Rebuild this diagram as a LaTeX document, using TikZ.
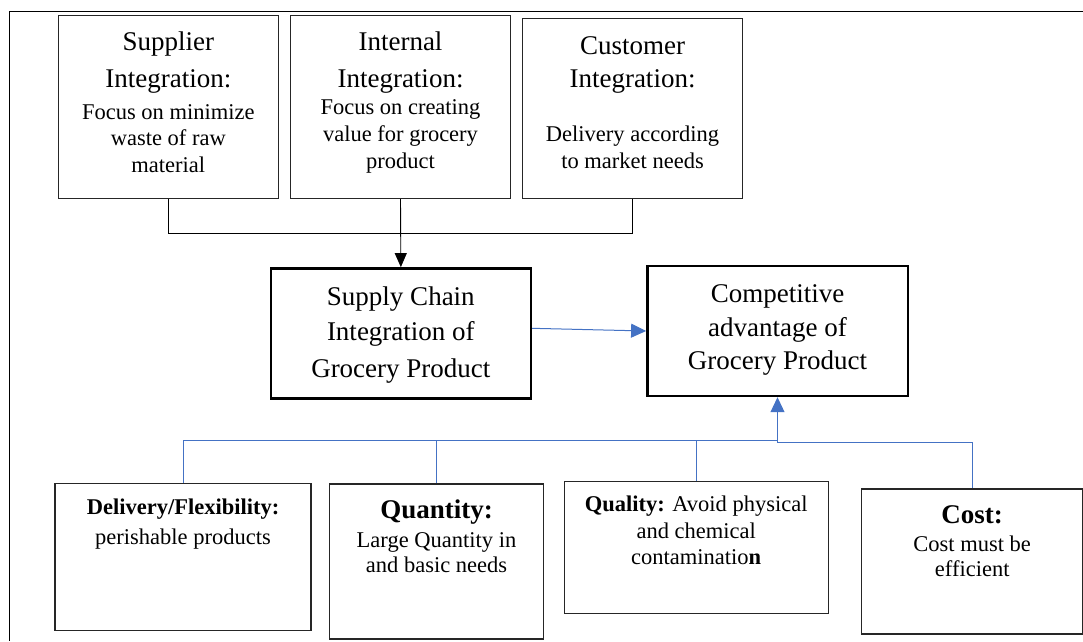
\documentclass[tikz,border=0pt]{standalone}
\usepackage{fontspec}
\setmainfont{LiberationSerif}[Extension=.ttf, UprightFont=*-Regular, BoldFont=*-Bold, ItalicFont=*-Italic, BoldItalicFont=*-BoldItalic]
\usetikzlibrary{arrows.meta}
\definecolor{linkblue}{HTML}{4472C4}
\begin{document}
\begin{tikzpicture}[x=1pt,y=-1pt,
  topbox/.style={draw=black!85, line width=0.9pt, inner sep=0pt},
  keybox/.style={draw=black, line width=2.4pt, inner sep=0pt},
  factbox/.style={draw=black!85, line width=1.1pt, inner sep=0pt},
  big/.style={font=\fontsize{27}{32}\selectfont, anchor=base, inner sep=0pt},
  small/.style={font=\fontsize{22.5}{27}\selectfont, anchor=base, inner sep=0pt},
  feed/.style={draw=black, line width=0.9pt},
  link/.style={draw=linkblue, line width=1pt},
  blackhead/.style={-{Triangle[length=14pt,width=12pt]}},
  bluehead/.style={-{Triangle[length=15pt,width=14pt]}},
]
\useasboundingbox (0,0) rectangle (1083,641);

% outer frame (top and left edges)
\draw[line width=1.5pt] (1083,11.7) -- (9.7,11.7) -- (9.7,641);

% integration boxes
\node[topbox, minimum width=220pt, minimum height=183.4pt] (sup) at (168.3,107) {};
\node[topbox, minimum width=219.6pt, minimum height=183.4pt] (int) at (400.5,107) {};
\node[topbox, minimum width=219.6pt, minimum height=180.7pt] (cust) at (632.5,108.4) {};

\node[big] (supA) at (168.3,50.7) {Supplier};
\node[big] (supB) at (168.3,87.3) {Integration:};
\node[small] (supC) at (168.3,119) {Focus on minimize};
\node[small] (supD) at (168.3,145.5) {waste of raw};
\node[small] (supE) at (168.3,172) {material};

\node[big] (intA) at (400.5,50.7) {Internal};
\node[big] (intB) at (400.5,87.3) {Integration:};
\node[small] (intC) at (400.5,114) {Focus on creating};
\node[small] (intD) at (400.5,141.5) {value for grocery};
\node[small] (intE) at (400.5,168.5) {product};

\node[big] (custA) at (632.5,54.3) {Customer};
\node[big] (custB) at (632.5,87.3) {Integration:};
\node[small] (custC) at (632.5,141.7) {Delivery according};
\node[small] (custD) at (632.5,168.3) {to market needs};

% central boxes
\node[keybox, minimum width=260.3pt, minimum height=130pt] (scm) at (400.85,333.3) {};
\node[keybox, minimum width=260.4pt, minimum height=130pt] (comp) at (777.5,331) {};

\node[big] (scmA) at (400.85,305) {Supply Chain};
\node[big] (scmB) at (400.85,340.7) {Integration of};
\node[big] (scmC) at (400.85,377.7) {Grocery Product};

\node[big] (compA) at (777.5,302.3) {Competitive};
\node[big] (compB) at (777.5,336) {advantage of};
\node[big] (compC) at (777.5,369.3) {Grocery Product};

% factor boxes
\node[factbox, minimum width=256pt, minimum height=147.4pt] (del) at (183,557) {};
\node[factbox, minimum width=214.4pt, minimum height=155pt] (qty) at (436.5,561.5) {};
\node[factbox, minimum width=264.3pt, minimum height=131.6pt] (qly) at (696.2,547.5) {};
\node[factbox, minimum width=221pt, minimum height=145pt] (cost) at (972.2,561.5) {};

\node[small] (delA) at (183,514.3) {\textbf{Delivery/Flexibility:}};
\node[small] (delB) at (183,544) {perishable products};

\node[big] (qtyA) at (436.5,518.3) {\textbf{Quantity:}};
\node[small] (qtyB) at (436.5,547) {Large Quantity in};
\node[small] (qtyC) at (436.5,572) {and basic needs};

\node[small] (qlyA) at (696.2,511.7) {\textbf{Quality:} Avoid physical};
\node[small] (qlyB) at (696.2,538.3) {and chemical};
\node[small] (qlyC) at (696.2,564) {contaminatio\textbf{n}};

\node[big] (costA) at (972.2,523.3) {\textbf{Cost:}};
\node[small] (costB) at (972.2,551.7) {Cost must be};
\node[small] (costC) at (972.2,576.7) {efficient};

% integration feed into the supply chain box
\coordinate (topjoin) at (400.5,233.3);
\draw[feed] (sup.south) |- (topjoin) -| (cust.south);
\draw[feed, blackhead] (int.south) -- (scm.north);

% supply chain integration drives competitive advantage
\draw[link, bluehead] ([yshift=5pt]scm.east) -- (comp.west);

% competitive factors tree
\coordinate (hub) at (777.5,440);
\draw[link] (del.north) |- (hub);
\draw[link] (qty.north) -- (qty.north |- hub);
\draw[link] (qly.north) -- (qly.north |- hub);
\draw[link] (hub) -- ++(0,2.5) -| (cost.north);
\draw[link, bluehead] (hub) -- (comp.south);
\end{tikzpicture}
\end{document}
